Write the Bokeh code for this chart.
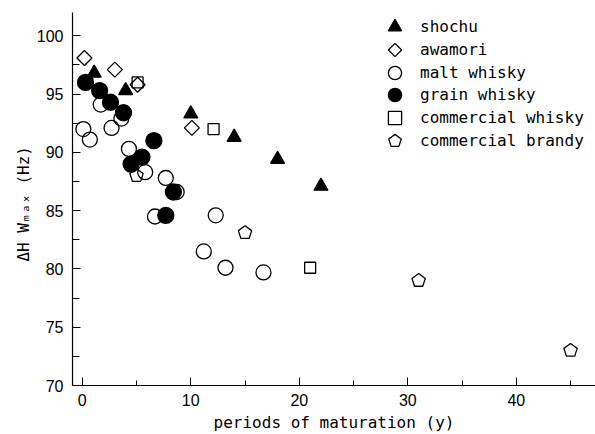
import math
from bokeh.plotting import figure
from bokeh.models import Range1d, Legend, LegendItem, FixedTicker
from bokeh.embed import file_html
from bokeh.resources import INLINE

# ---- data ----
shochu_x = [1.1, 4.0, 10.0, 14.0, 18.0, 22.0]
shochu_y = [96.8, 95.3, 93.3, 91.3, 89.4, 87.1]
awamori_x = [0.2, 3.0, 5.1, 10.1]
awamori_y = [98.1, 97.1, 95.8, 92.1]
malt_x = [1.7, 3.6, 0.1, 0.7, 2.7, 4.3, 5.8, 7.7, 8.7, 6.7, 12.3, 11.2, 13.2, 16.7]
malt_y = [94.1, 92.9, 92.0, 91.1, 92.1, 90.3, 88.3, 87.8, 86.6, 84.5, 84.6, 81.5, 80.1, 79.7]
grain_x = [0.3, 1.6, 2.6, 3.8, 6.6, 5.5, 4.5, 8.4, 7.7]
grain_y = [96.0, 95.3, 94.3, 93.4, 91.0, 89.6, 89.0, 86.6, 84.6]
cwhisky_x = [5.1, 12.1, 21.0]
cwhisky_y = [96.0, 92.0, 80.1]
brandy_x = [5.0, 15.0, 31.0, 45.0]
brandy_y = [88.0, 83.1, 79.0, 73.0]

x_ticks = [0, 10, 20, 30, 40]
x_minor = [5, 15, 25, 35, 45]
y_ticks = [70, 75, 80, 85, 90, 95, 100]
y_minor = [72.5, 77.5, 82.5, 87.5, 92.5, 97.5]

labels = ["shochu", "awamori", "malt whisky", "grain whisky",
          "commercial whisky", "commercial brandy"]

# ---- figure ----
p = figure(width=595, height=434,
           x_range=Range1d(-0.9, 47.3), y_range=Range1d(70, 102),
           output_backend="svg", toolbar_location=None,
           min_border_left=72, min_border_right=0,
           min_border_top=12, min_border_bottom=49)
p.outline_line_color = None
p.grid.visible = False

lw = 1.3
r_malt = p.scatter(malt_x, malt_y, marker="circle", size=15,
                   fill_color=None, line_color="black", line_width=lw)
r_cw = p.scatter(cwhisky_x, cwhisky_y, marker="square", size=11,
                 fill_color=None, line_color="black", line_width=lw)
r_br = p.ngon(brandy_x, brandy_y, radius=7, radius_units="screen", n=5,
              fill_color=None, line_color="black", line_width=lw)
r_aw = p.ngon(awamori_x, awamori_y, radius=7.5, radius_units="screen", n=4,
              fill_color=None, line_color="black", line_width=lw)
r_grain = p.scatter(grain_x, grain_y, marker="circle", size=16,
                    fill_color="black", line_color="black", line_width=lw)
r_sh = p.scatter(shochu_x, shochu_y, marker="triangle", size=14,
                 fill_color="black", line_color="black", line_width=lw)

# ---- axes ----
mono = "DejaVu Sans Mono"
for ax in (p.xaxis[0], p.yaxis[0]):
    ax.axis_line_color = "black"
    ax.axis_line_width = 1.2
    ax.major_tick_line_color = "black"
    ax.minor_tick_line_color = "black"
    ax.major_tick_out = 0
    ax.minor_tick_out = 0
    ax.major_label_text_font = "Liberation Sans"
    ax.major_label_text_font_size = "16px"
    ax.major_label_text_color = "black"
    ax.axis_label_text_font = mono
    ax.axis_label_text_font_size = "16px"
    ax.axis_label_text_font_style = "normal"
    ax.axis_label_text_color = "black"

p.xaxis.ticker = FixedTicker(ticks=x_ticks, minor_ticks=x_minor)
p.yaxis.ticker = FixedTicker(ticks=y_ticks, minor_ticks=y_minor)
p.xaxis.major_tick_in = 8
p.xaxis.minor_tick_in = 5
p.yaxis.major_tick_in = 8
p.yaxis.minor_tick_in = 7
p.xaxis.major_label_standoff = 8
p.yaxis.major_label_standoff = 9
p.xaxis.axis_label = "periods of maturation (y)"
p.yaxis.axis_label = "\u0394H W\u2098\u2090\u2093  (Hz)"
p.xaxis.axis_label_standoff = 4
p.yaxis.axis_label_standoff = 1

# ---- legend: one block per entry so rows can sit closer than the glyph box ----
rends = [r_sh, r_aw, r_malt, r_grain, r_cw, r_br]
row0, row_step = 26.7, 22.7      # page y of first row centre, row pitch
frame_bottom = 385.0             # page y of x axis
glyph_h = 33
for i, (lab, r) in enumerate(zip(labels, rends)):
    cy = row0 + row_step * i
    vy = frame_bottom - cy - glyph_h / 2
    lg = Legend(items=[LegendItem(label=lab, renderers=[r])],
                location=(305, vy), orientation="vertical",
                glyph_width=35, glyph_height=glyph_h, spacing=0,
                label_standoff=8, padding=0, margin=0,
                label_text_font=mono, label_text_font_size="16px",
                label_text_color="black",
                border_line_color=None, background_fill_alpha=0)
    p.add_layout(lg, "center")

open("out.html", "w").write(file_html(p, INLINE))
